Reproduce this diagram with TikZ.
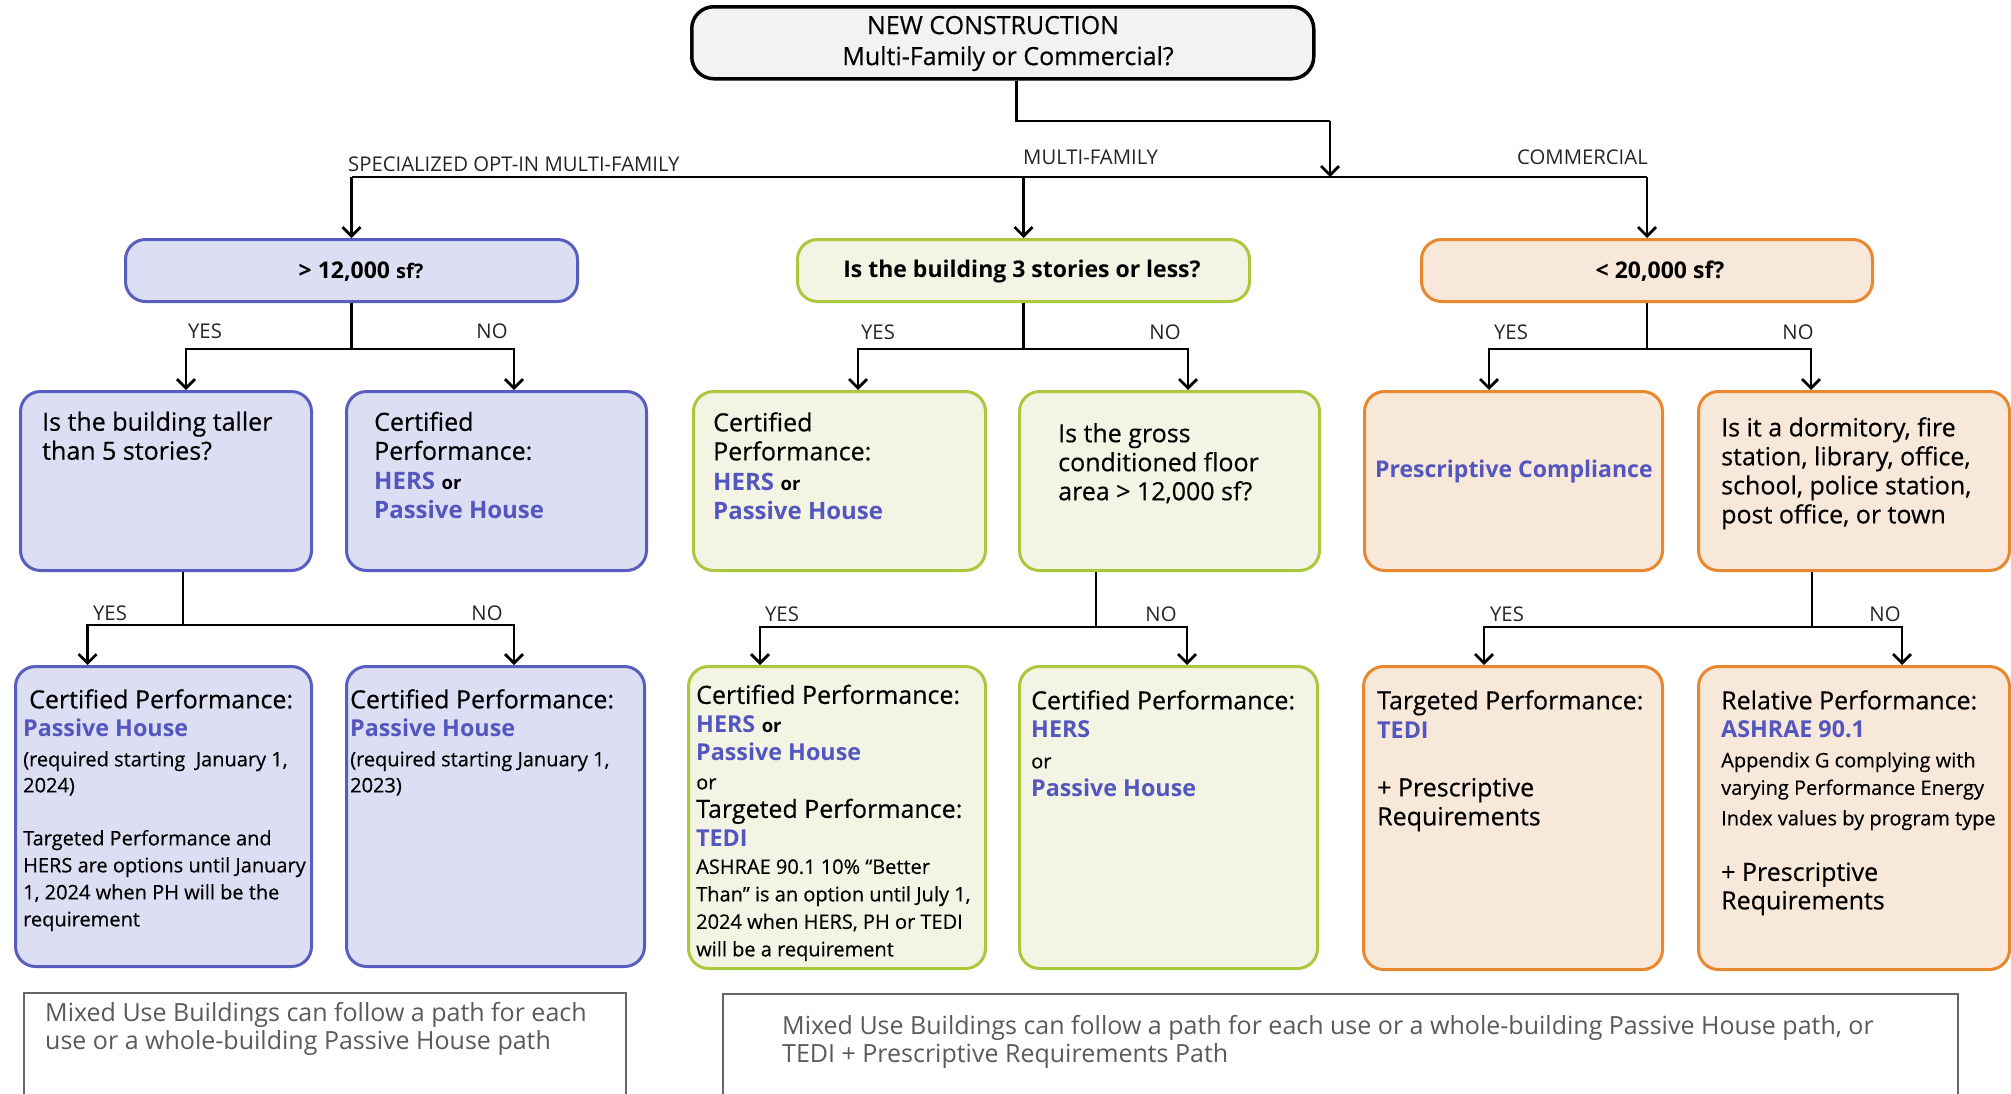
\documentclass[tikz,border=0pt]{standalone}
\usepackage{fontspec}
\setmainfont{Open Sans}[UprightFeatures={FakeBold=0.4}]
\newfontfamily\plainfont{Open Sans}
\usetikzlibrary{arrows.meta,calc}
\definecolor{bbord}{RGB}{88,94,192}
\definecolor{bfill}{RGB}{220,223,243}
\definecolor{gbord}{RGB}{170,200,60}
\definecolor{gfill}{RGB}{244,244,229}
\definecolor{obord}{RGB}{232,135,45}
\definecolor{ofill}{RGB}{248,232,218}
\definecolor{hlblue}{RGB}{82,86,190}
\definecolor{topfill}{RGB}{242,242,242}
\definecolor{notegray}{RGB}{90,90,90}
\newcommand\fsz[2]{\fontsize{#1}{#2}\selectfont}
\newcommand\hlt[2][23.3]{{\fsz{#1}{28}\bfseries\color{hlblue}#2}}
\newcommand\sor{{\fsz{18.5}{20}\bfseries or}}
\newcommand\sm[1]{{\fsz{20}{27}#1}}
\begin{document}
\begin{tikzpicture}[x=1pt,y=-1pt,
  line/.style={line width=2.7pt, draw=black},
  arr/.style={line, -{Straight Barb[length=9pt,width=18pt]}},
  box/.style={rounded corners=20pt, line width=3pt, inner sep=0pt, anchor=north west},
  bbox/.style={box, draw=bbord, fill=bfill},
  gbox/.style={box, draw=gbord, fill=gfill},
  obox/.style={box, draw=obord, fill=ofill},
  txt/.style={inner sep=0pt, align=left, anchor=north west, font=\fsz{25}{29}},
  lbl/.style={inner sep=0pt, font=\plainfont\fsz{20.3}{22}, text=black!85},
  q1/.style={inner sep=0pt, font=\fsz{23}{26}\bfseries}
]
\useasboundingbox (0,0) rectangle (2011,1093);
\fill[white] (0,0) rectangle (2011,1093);

% top box
\node[box, draw=black, line width=3.5pt, fill=topfill, rounded corners=22pt,
      minimum width=622pt, minimum height=72pt] (top) at (690,5) {};
\node[inner sep=0pt, align=center, font=\fsz{25}{31}] (toptxt) at (1000.5,43.5)
  {NEW CONSTRUCTION\hspace*{15pt}\\\hspace*{15pt}Multi-Family or Commercial?};

% level 1
\node[bbox, minimum width=452pt, minimum height=62pt] (l1a) at (124,238) {};
\node[gbox, minimum width=452pt, minimum height=62pt] (l1b) at (796,238) {};
\node[obox, minimum width=451pt, minimum height=62pt] (l1c) at (1420,238) {};
\node[q1] (q1a) at (361,271.5) {> 12,000 {\fsz{20}{22}sf?}};
\node[q1] (q1b) at (1022,271.5) {Is the building 3 stories or less?};
\node[q1] (q1c) at (1660,271.5) {< 20,000 sf?};

% level 2
\node[bbox, minimum width=291pt, minimum height=179pt] (l2a) at (19,390) {};
\node[bbox, minimum width=300pt, minimum height=179pt] (l2b) at (345,390) {};
\node[gbox, minimum width=292pt, minimum height=179pt] (l2c) at (692,390) {};
\node[gbox, minimum width=300pt, minimum height=179pt] (l2d) at (1018,390) {};
\node[obox, minimum width=298pt, minimum height=179pt] (l2e) at (1363,390) {};
\node[obox, minimum width=311pt, minimum height=179pt] (l2f) at (1697,390) {};

\node[txt] (t2a) at (42,411.5) {Is the building taller\\than 5 stories?};
\node[txt] (t2b) at (374,411.5) {Certified\\Performance:\\[1pt]\hlt[24]{HERS} \sor\\\hlt[24]{Passive House}};
\node[txt] (t2c) at (713,412) {Certified\\Performance:\\[1pt]\hlt[24]{HERS} \sor\\\hlt[24]{Passive House}};
\node[txt] (t2d) at (1058,423) {Is the gross\\conditioned floor\\area > 12,000 sf?};
\node[inner sep=0pt, anchor=west] (t2e) at (1375,472) {\hlt[23]{Prescriptive Compliance}};
\node[txt] (t2f) at (1721,417) {Is it a dormitory, fire\\station, library, office,\\school, police station,\\post office, or town};

% level 3
\node[bbox, minimum width=296pt, minimum height=300pt] (l3a) at (14,665) {};
\node[bbox, minimum width=298pt, minimum height=300pt] (l3b) at (345,665) {};
\node[gbox, minimum width=297pt, minimum height=302pt] (l3c) at (687,665) {};
\node[gbox, minimum width=298pt, minimum height=302pt] (l3d) at (1018,665) {};
\node[obox, minimum width=299pt, minimum height=303pt] (l3e) at (1362,665) {};
\node[obox, minimum width=311pt, minimum height=303pt] (l3f) at (1697,665) {};

\node[txt, font=\fsz{25}{28}] (t3a) at (23,689) {\hspace*{6pt}Certified Performance:\\\hlt{Passive House}\\[2pt]
  \sm{(required starting\ \ January 1,}\\[-2pt]\sm{2024)}\\[25pt]
  \sm{Targeted Performance and}\\[-1pt]\sm{HERS are options until January}\\[-1pt]
  \sm{1, 2024 when PH will be the}\\[-1pt]\sm{requirement}};
\node[txt, font=\fsz{25}{28}] (t3b) at (350,689) {Certified Performance:\\\hlt{Passive House}\\[2pt]
  \sm{(required starting January 1,}\\[-2pt]\sm{2023)}};
\node[txt, font=\fsz{25}{28.5}] (t3c) at (696,684.5) {Certified Performance:\\\hlt{HERS} \sor\\\hlt{Passive House}\\
  {\fsz{20}{22}or}\\Targeted Performance:\\\hlt{TEDI}\\[-1pt]
  \sm{ASHRAE 90.1 10\% “Better}\\[-1pt]\sm{Than” is an option until July 1,}\\[-1pt]
  \sm{2024 when HERS, PH or TEDI}\\[-1pt]\sm{will be a requirement}};
\node[txt, font=\fsz{25}{28.5}] (t3d) at (1031,690) {Certified Performance:\\\hlt{HERS}\\[2pt]{\fsz{20}{22}or}\\\hlt{Passive House}};
\node[txt, font=\fsz{25}{29}] (t3e) at (1377,690) {Targeted Performance:\\\hlt{TEDI}\\[29pt]+ Prescriptive\\Requirements};
\node[txt, font=\fsz{25}{28.5}] (t3f) at (1721,690) {Relative Performance:\\\hlt{ASHRAE 90.1}\\[1pt]
  \sm{Appendix G complying with}\\[-1pt]\sm{varying Performance Energy}\\[2pt]
  \sm{Index values by program type}\\[27pt]+ Prescriptive\\Requirements};

% notes
\node[box, rounded corners=0pt, draw=black!60, line width=1.5pt, fill=white,
      minimum width=602pt, minimum height=140pt] (noteL) at (23,992) {};
\node[box, rounded corners=0pt, draw=black!60, line width=1.5pt, fill=white,
      minimum width=1235pt, minimum height=140pt] (noteR) at (722,993) {};
\node[txt, font=\plainfont\fsz{25}{28}, text=notegray] (tnL) at (45,1002.5)
  {Mixed Use Buildings can follow a path for each\\use or a whole-building Passive House path};
\node[txt, font=\plainfont\fsz{25}{28}, text=notegray] (tnR) at (782,1015.5)
  {Mixed Use Buildings can follow a path for each use or a whole-building Passive House path, or\\TEDI + Prescriptive Requirements Path};

% connectors top
\coordinate (bus) at (0,177);
\coordinate (j0) at (1330,121);
\draw[line] ([xshift=14pt]top.south) |- (j0);
\draw[arr] (j0) -- (j0 |- bus);
\draw[line] (l1a.north |- bus) -- (l1c.north |- bus);
\draw[arr] (l1a.north |- bus) -- (l1a.north);
\draw[arr] (l1b.north |- bus) -- (l1b.north);
\draw[arr] (l1c.north |- bus) -- (l1c.north);
\node[lbl, anchor=west] (lspec) at (348,164) {SPECIALIZED OPT-IN MULTI-FAMILY};
\node[lbl, anchor=west] (lmf) at (1023,157) {MULTI-FAMILY};
\node[lbl, anchor=west] (lcom) at (1517,157) {COMMERCIAL};

% level1 -> level2
\coordinate (ya) at (186,349); \coordinate (na) at (514,349);
\coordinate (yb) at (858,349); \coordinate (nb) at (1188,349);
\coordinate (yc) at (1489,349); \coordinate (nc) at (1811,349);
\draw[line] (l1a.south) -- (l1a.south |- ya);
\draw[line] (l1b.south) -- (l1b.south |- yb);
\draw[line] (l1c.south) -- (l1c.south |- yc);
\draw[arr] (na) -- (ya) -- (ya |- l2a.north);
\draw[arr] (ya) -- (na) -- (na |- l2b.north);
\draw[arr] (nb) -- (yb) -- (yb |- l2c.north);
\draw[arr] (yb) -- (nb) -- (nb |- l2d.north);
\draw[arr] (nc) -- (yc) -- (yc |- l2e.north);
\draw[arr] (yc) -- (nc) -- (nc |- l2f.north);
\node[lbl] (y1a) at (205,331) {YES}; \node[lbl] (n1a) at (492,331) {NO};
\node[lbl] (y1b) at (878,332) {YES}; \node[lbl] (n1b) at (1165,332) {NO};
\node[lbl] (y1c) at (1511,332) {YES}; \node[lbl] (n1c) at (1798,332) {NO};

% level2 -> level3
\coordinate (ma) at (183,625); \coordinate (y3a) at (87.6,625); \coordinate (n3a) at (514,625);
\coordinate (md) at (1096,627); \coordinate (y3c) at (760,627); \coordinate (n3c) at (1187,627);
\coordinate (mf) at (1812,627); \coordinate (y3e) at (1484,627); \coordinate (n3e) at (1902,627);
\draw[line] (ma |- l2a.south) -- (ma);
\draw[line] (md |- l2d.south) -- (md);
\draw[line] (mf |- l2f.south) -- (mf);
\draw[arr] (n3a) -- (y3a) -- (y3a |- l3a.north);
\draw[arr] (y3a) -- (n3a) -- (n3a |- l3b.north);
\draw[arr] (n3c) -- (y3c) -- (y3c |- l3c.north);
\draw[arr] (y3c) -- (n3c) -- (n3c |- l3d.north);
\draw[arr] (n3e) -- (y3e) -- (y3e |- l3e.north);
\draw[arr] (y3e) -- (n3e) -- (n3e |- l3f.north);
\node[lbl] (y2a) at (110,613) {YES}; \node[lbl] (n2a) at (487,613) {NO};
\node[lbl] (y2c) at (782,614) {YES}; \node[lbl] (n2c) at (1161,614) {NO};
\node[lbl] (y2e) at (1507,614) {YES}; \node[lbl] (n2e) at (1885,614) {NO};
\end{tikzpicture}
\end{document}
